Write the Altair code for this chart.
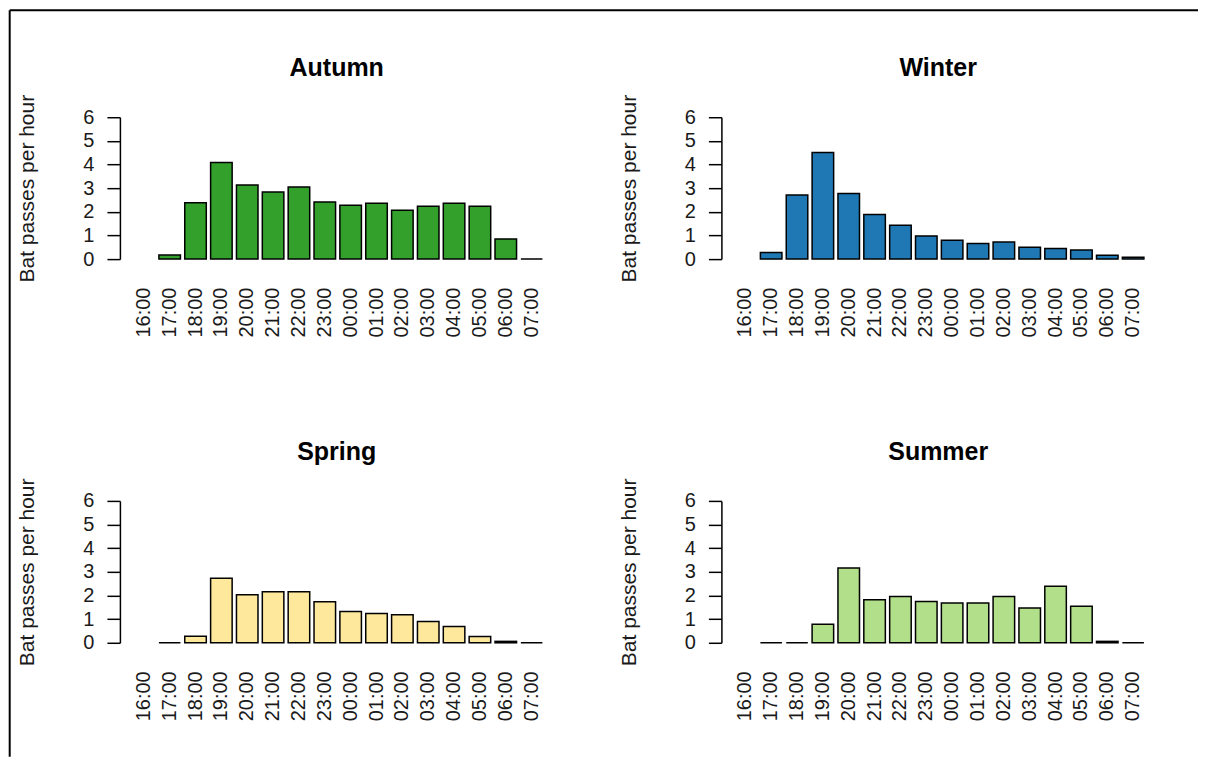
import altair as alt
import pandas as pd

hours = ["16:00", "17:00", "18:00", "19:00", "20:00", "21:00", "22:00", "23:00",
         "00:00", "01:00", "02:00", "03:00", "04:00", "05:00", "06:00", "07:00"]

autumn = [None, 0.17, 2.38, 4.09, 3.13, 2.84, 3.05, 2.42, 2.28, 2.36, 2.07, 2.23, 2.36, 2.24, 0.85, 0.0]
winter = [None, 0.28, 2.71, 4.51, 2.77, 1.89, 1.43, 0.98, 0.80, 0.66, 0.72, 0.50, 0.45, 0.38, 0.16, 0.08]
spring = [None, 0.0, 0.28, 2.73, 2.03, 2.16, 2.16, 1.74, 1.32, 1.24, 1.19, 0.90, 0.69, 0.27, 0.06, 0.0]
summer = [None, 0.0, 0.0, 0.78, 3.16, 1.82, 1.96, 1.75, 1.68, 1.68, 1.96, 1.47, 2.39, 1.54, 0.06, 0.0]

seasons = ["Autumn", "Winter", "Spring", "Summer"]
series = [autumn, winter, spring, summer]
colors = ["#33a02c", "#1f78b4", "#fee89c", "#b2df8a"]

y_ticks = [0, 1, 2, 3, 4, 5, 6]
y_title = "Bat passes per hour"

W, H = 414, 142
FONT = "Liberation Sans"
INK = "#1a1a1a"


def panel(name, values, color, border=False):
    df = pd.DataFrame({"hour": hours, "value": values})
    bars = alt.Chart(df).mark_bar(fill=color, stroke="black", strokeWidth=1.5).encode(
        x=alt.X(
            "hour:N",
            scale=alt.Scale(domain=hours, paddingInner=0.167, paddingOuter=0.083),
            axis=alt.Axis(
                title=None, labelAngle=270, domain=False, ticks=False,
                labelPadding=28, labelFontSize=20, labelFont=FONT, labelColor=INK,
            ),
        ),
        y=alt.Y(
            "value:Q",
            scale=alt.Scale(domain=[0, 6], nice=False),
            axis=alt.Axis(
                title=y_title, values=y_ticks, offset=11, grid=False,
                domainColor="black", domainWidth=1.5, tickColor="black", tickWidth=1.5,
                tickSize=13, labelPadding=13, labelFontSize=20, labelFont=FONT,
                labelColor=INK, titleFont=FONT, titleFontSize=21, titleFontWeight="normal",
                titleColor=INK, titleAngle=270, titleAlign="center",
                titleBaseline="alphabetic", titleX=-86, titleY=H / 2,
            ),
        ),
    )
    title = alt.Chart(pd.DataFrame({"t": [name]})).mark_text(
        fontSize=25, fontWeight="bold", font=FONT, align="center",
        baseline="alphabetic", color="black",
    ).encode(text="t:N", x=alt.value(206), y=alt.value(-41))
    layers = [bars, title]
    if border:
        bdf = pd.DataFrame({"k": [0]})
        top = alt.Chart(bdf).mark_rule(color="black", strokeWidth=2).encode(
            x=alt.value(-121.3), x2=alt.value(1068), y=alt.value(-107))
        left = alt.Chart(bdf).mark_rule(color="black", strokeWidth=2).encode(
            x=alt.value(-121.3), y=alt.value(-107), y2=alt.value(640))
        layers += [top, left]
    return alt.layer(*layers).properties(width=W, height=H)


panels = [panel(n, v, c, border=(i == 0)) for i, (n, v, c) in enumerate(zip(seasons, series, colors))]

chart = alt.concat(
    *panels, columns=2, spacing=alt.RowColnumber(row=242, column=188), bounds="flush"
).properties(padding=0).configure(
    font=FONT, view=alt.ViewConfig(stroke="transparent")
)

chart.save("out.html", embed_options={"renderer": "svg", "actions": False})
